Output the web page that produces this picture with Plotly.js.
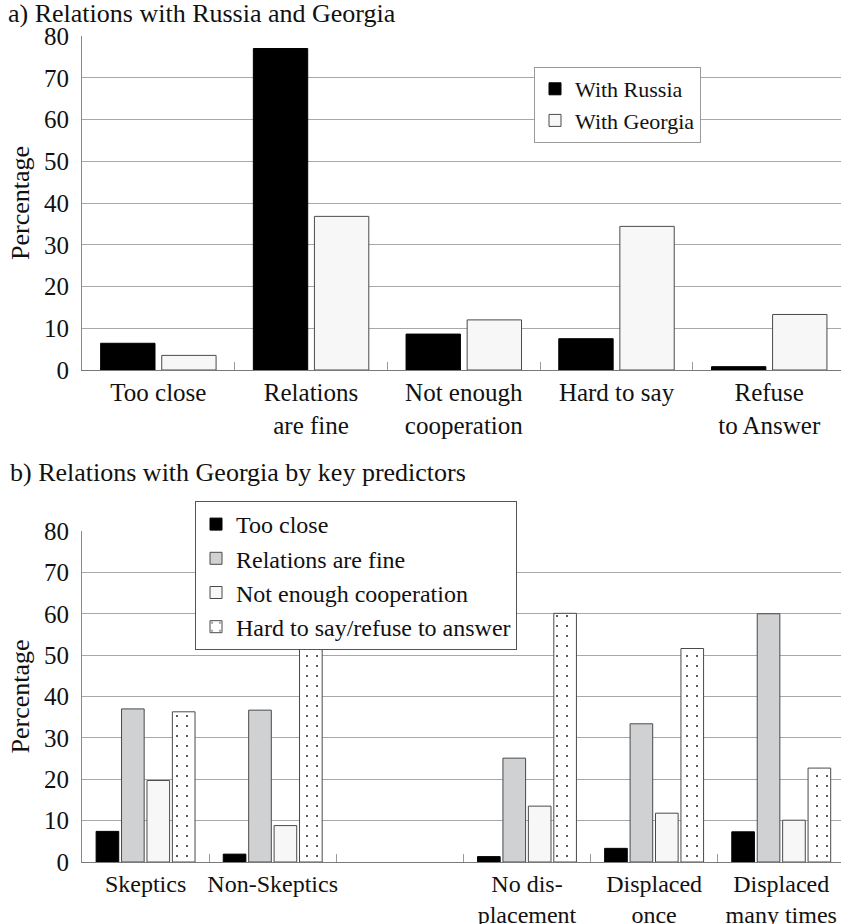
<!DOCTYPE html>
<html>
<head>
<meta charset="utf-8">
<script src="https://cdn.plot.ly/plotly-3.0.1.min.js"></script>
<style>html,body{margin:0;padding:0;background:#fff;}#chart{width:841px;height:924px;}</style>
</head>
<body>
<div id="chart"></div>
<script>
// ---- Data ----
const topCategories = ["Too close", "Relations<br>are fine", "Not enough<br>cooperation", "Hard to say", "Refuse<br>to Answer"];
const withRussia = [6.4, 77.0, 8.6, 7.5, 0.8];
const withGeorgia = [3.5, 36.8, 12.0, 34.4, 13.3];

const bottomCategories = ["Skeptics", "Non-Skeptics", " ", "No dis-<br>placement", "Displaced<br>once", "Displaced<br>many times"];
const tooClose = [7.4, 1.9, null, 1.3, 3.3, 7.3];
const relationsFine = [37.0, 36.7, null, 25.1, 33.4, 60.0];
const notEnoughCoop = [19.7, 8.8, null, 13.5, 11.8, 10.1];
const hardToSayRefuse = [36.3, 52.7, null, 60.1, 51.6, 22.7];

const yTicks = [0, 10, 20, 30, 40, 50, 60, 70, 80];

// ---- Styles ----
const FONT = "Liberation Serif, Times New Roman, serif";
const W = 841, H = 924;
const outline = "#4a4a4a";

const traces = [
  {type: "bar", name: "With Russia", x: topCategories, y: withRussia, xaxis: "x", yaxis: "y",
   marker: {color: "#000000", line: {color: "#000000", width: 1}}, legend: "legend"},
  {type: "bar", name: "With Georgia", x: topCategories, y: withGeorgia, xaxis: "x", yaxis: "y",
   marker: {color: "#f7f7f7", line: {color: outline, width: 1}}, legend: "legend"},
  {type: "bar", name: "Too close", x: bottomCategories, y: tooClose, xaxis: "x2", yaxis: "y2",
   marker: {color: "#000000", line: {color: "#000000", width: 1}}, legend: "legend2"},
  {type: "bar", name: "Relations are fine", x: bottomCategories, y: relationsFine, xaxis: "x2", yaxis: "y2",
   marker: {color: "#d0d1d3", line: {color: outline, width: 1}}, legend: "legend2"},
  {type: "bar", name: "Not enough cooperation", x: bottomCategories, y: notEnoughCoop, xaxis: "x2", yaxis: "y2",
   marker: {color: "#f7f7f7", line: {color: outline, width: 1}}, legend: "legend2"},
  {type: "bar", name: "Hard to say/refuse to answer", x: bottomCategories, y: hardToSayRefuse, xaxis: "x2", yaxis: "y2",
   marker: {color: "#ffffff", line: {color: outline, width: 1},
            pattern: {shape: ".", fgcolor: "#222222", bgcolor: "#ffffff", size: 10, solidity: 0.03}},
   legend: "legend2"}
];

function yAxis(domain, anchor) {
  return {
    domain: domain, anchor: anchor, range: [0, 80], tickvals: yTicks, ticktext: yTicks.map(String),
    showgrid: true, gridcolor: "#a8a8a8", gridwidth: 1, zeroline: false,
    showline: true, linecolor: "#8a8a8a", linewidth: 1, ticks: "", ticklabelstandoff: 7,
    tickfont: {family: FONT, size: 25, color: "#111"},
    title: {text: "Percentage", font: {family: FONT, size: 26, color: "#111"}, standoff: 6},
    automargin: false, fixedrange: true
  };
}
function xAxis(domain, anchor, cats, range, fsize) {
  return {
    domain: domain, anchor: anchor, type: "category", categoryorder: "array", categoryarray: cats,
    range: range, showgrid: false, zeroline: false, showline: true, linecolor: "#7a7a7a", linewidth: 1,
    ticks: "inside", tickson: "boundaries", ticklen: 8, tickcolor: "#9a9a9a", tickwidth: 1,
    tickangle: 0,
    tickfont: {family: FONT, size: fsize, color: "#111"}, automargin: false, fixedrange: true
  };
}

const layout = {
  width: W, height: H, margin: {l: 82, r: 0, t: 0, b: 0},
  paper_bgcolor: "#ffffff", plot_bgcolor: "#ffffff",
  font: {family: FONT, color: "#111"},
  barmode: "group", bargap: 0.2, bargroupgap: 0.11,
  title: {text: "a) Relations with Russia and Georgia", xref: "container", yref: "container",
          x: 8 / W, xanchor: "left", y: 1 - 13 / H, yanchor: "middle",
          font: {family: FONT, size: 26, color: "#111"}},
  xaxis: xAxis([0, 1], "y", topCategories, [-0.5, 4.47], 25),
  yaxis: yAxis([1 - 370 / H, 1 - 36 / H], "x"),
  xaxis2: xAxis([0, 1], "y2", bottomCategories, [-0.5, 5.47], 24),
  yaxis2: yAxis([1 - 862 / H, 1 - 531 / H], "x2"),
  showlegend: true,
  legend: {x: (534 - 82) / (W - 82), y: 1 - 67 / H, xanchor: "left", yanchor: "top",
           bgcolor: "#ffffff", bordercolor: "#9a9a9a", borderwidth: 1,
           font: {family: FONT, size: 22, color: "#111"}, traceorder: "normal"},
  legend2: {x: (195 - 82) / (W - 82), y: 1 - 501 / H, xanchor: "left", yanchor: "top",
           bgcolor: "#ffffff", bordercolor: "#555555", borderwidth: 1,
           font: {family: FONT, size: 24, color: "#111"}, traceorder: "normal"},
  annotations: [
    {text: "b) Relations with Georgia by key predictors", xref: "paper", yref: "paper",
     x: (8 - 82) / (W - 82), xanchor: "left", y: 1 - 473 / H, yanchor: "middle", showarrow: false,
     font: {family: FONT, size: 26, color: "#111"}}
  ]
};

Plotly.newPlot("chart", traces, layout, {displayModeBar: false, staticPlot: true});
</script>
</body>
</html>
